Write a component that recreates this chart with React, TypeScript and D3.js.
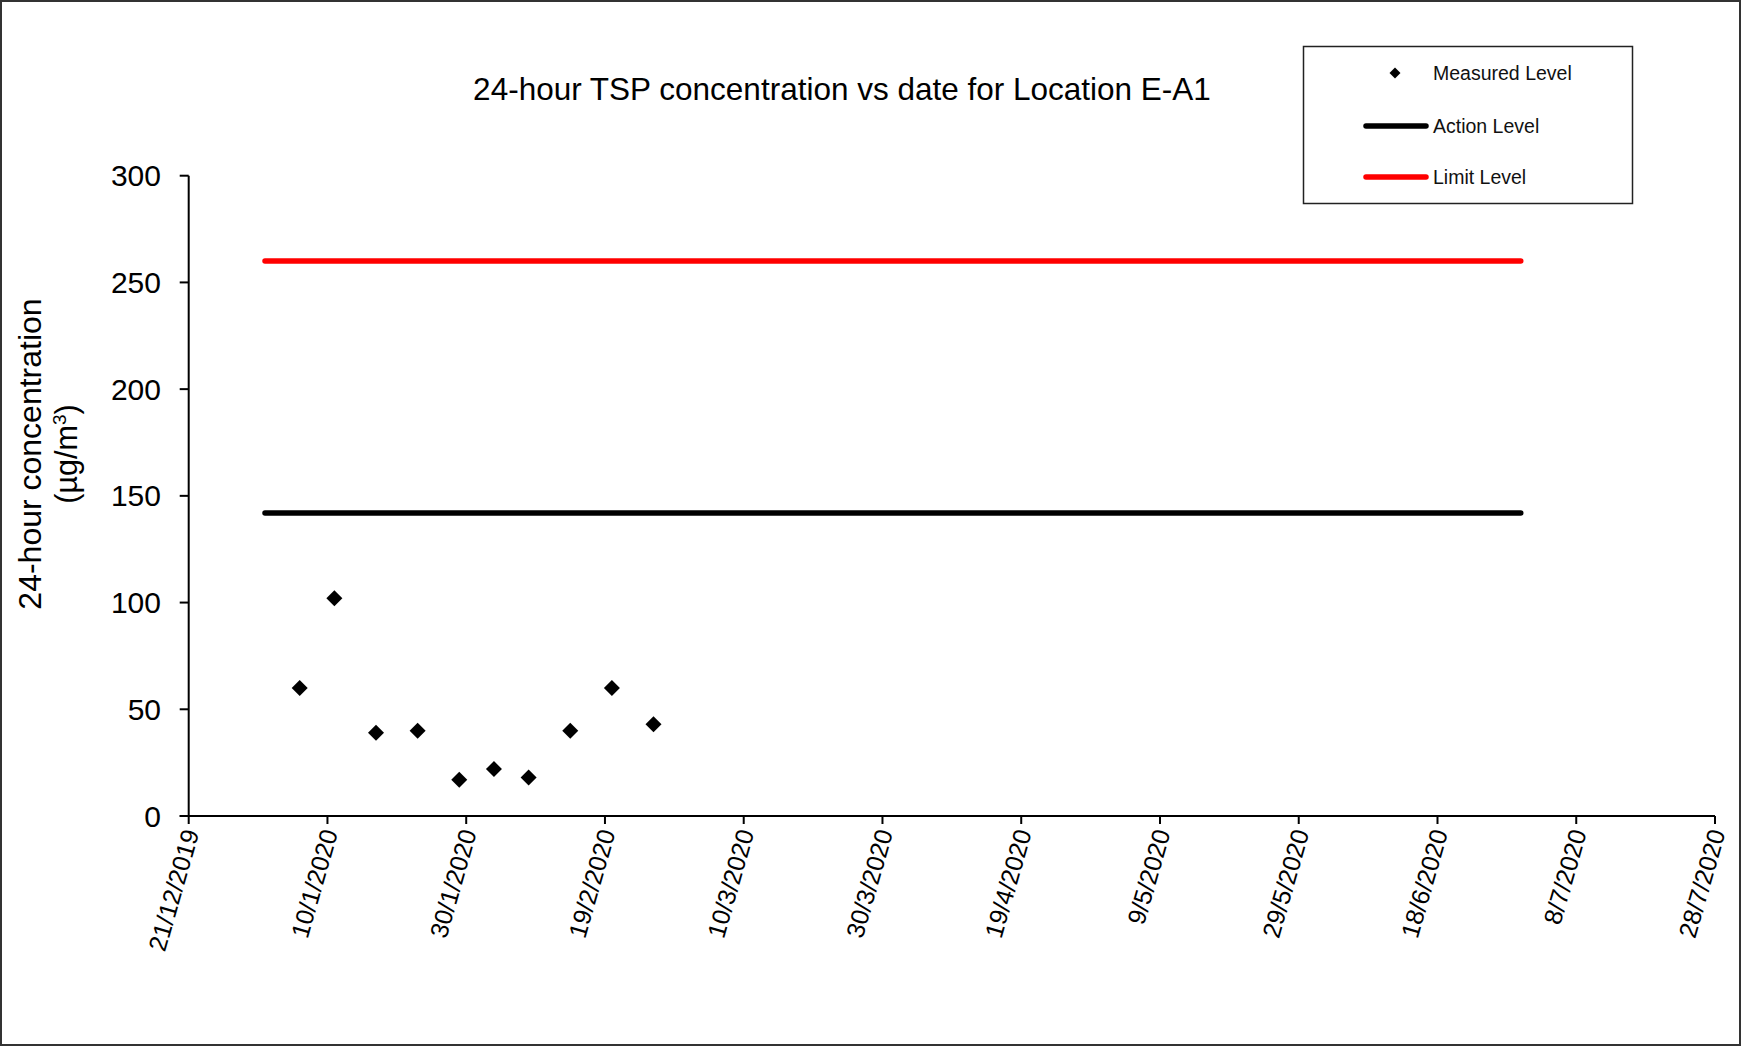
import React, { useEffect } from "react";
import * as d3 from "d3";

// ---- data ----
const measuredDates: string[] = [
  "2020-01-06", "2020-01-11", "2020-01-17", "2020-01-23", "2020-01-29",
  "2020-02-03", "2020-02-08", "2020-02-14", "2020-02-20", "2020-02-26",
];
const measuredValues: number[] = [60, 102, 39, 40, 17, 22, 18, 40, 60, 43];
const actionLevel = 142;
const limitLevel = 260;
const levelPeriod: string[] = ["2020-01-01", "2020-06-30"];
const xDomain: string[] = ["2019-12-21", "2020-07-28"];
const yTicks: number[] = [0, 50, 100, 150, 200, 250, 300];
const titleText = "24-hour TSP concentration vs date for Location E-A1";
const legendLabels: string[] = ["Measured Level", "Action Level", "Limit Level"];

const W = 1742;
const H = 1047;
const FONT = "Arial, 'Liberation Sans', Helvetica, sans-serif";

const parse = (s: string) => new Date(s + "T00:00:00Z");

export default function App() {
  useEffect(() => {
    document.body.style.margin = "0";
  }, []);

  const x = d3
    .scaleUtc()
    .domain([parse(xDomain[0]), parse(xDomain[1])])
    .range([188.7, 1715]);
  const y = d3.scaleLinear().domain([0, 300]).range([816, 175.7]);

  const xTicks = d3.utcDay.range(
    parse(xDomain[0]),
    d3.utcDay.offset(parse(xDomain[1]), 1),
    20
  );
  const fmt = d3.utcFormat("%-d/%-m/%Y");

  const diamond = d3.symbol(d3.symbolSquare, 128)();
  const legendDiamond = d3.symbol(d3.symbolSquare, 60)();

  const lineGen = d3
    .line<[Date, number]>()
    .x((d) => x(d[0]))
    .y((d) => y(d[1]));

  const levelLine = (v: number): string =>
    lineGen([
      [parse(levelPeriod[0]), v],
      [parse(levelPeriod[1]), v],
    ]) as string;

  const x0 = x.range()[0];
  const x1 = x.range()[1];
  const y0 = y(0);
  const yTop = y(300);

  return (
    <svg
      width={W}
      height={H}
      style={{ display: "block", background: "#fff" }}
      fontFamily={FONT}
    >
      <rect x={0} y={0} width={W} height={H} fill="#fff" />
      <rect x={1} y={1} width={1739} height={1044} fill="none" stroke="#333" strokeWidth={2} />

      {/* title */}
      <text x={842} y={100} textAnchor="middle" fontSize={31.5} fill="#000">
        {titleText}
      </text>

      {/* y axis */}
      <line x1={x0} y1={yTop} x2={x0} y2={y0} stroke="#000" strokeWidth={2} />
      {yTicks.map((t) => (
        <g key={"y" + t}>
          <line x1={x0 - 9} x2={x0} y1={y(t)} y2={y(t)} stroke="#000" strokeWidth={2} />
          <text
            x={161}
            y={y(t)}
            textAnchor="end"
            dominantBaseline="central"
            fontSize={30}
            fill="#000"
          >
            {t}
          </text>
        </g>
      ))}

      {/* x axis */}
      <line x1={x0 - 9} y1={y0} x2={x1} y2={y0} stroke="#000" strokeWidth={2} />
      {xTicks.map((d, i) => (
        <g key={"x" + i}>
          <line x1={x(d)} x2={x(d)} y1={y0} y2={y0 + 8} stroke="#000" strokeWidth={2} />
          <text
            transform={`translate(${x(d) + 2},${y0 + 14}) rotate(-74)`}
            textAnchor="end"
            dominantBaseline="central"
            fontSize={25}
            fill="#000"
          >
            {fmt(d)}
          </text>
        </g>
      ))}

      {/* y axis label */}
      <g transform="translate(41,454) rotate(-90)">
        <text x={0} y={0} textAnchor="middle" fontSize={32} fill="#000">
          24-hour concentration
        </text>
        <text x={0} y={36} textAnchor="middle" fontSize={30.5} fill="#000">
          (µg/m<tspan fontSize={19} dy={-11}>3</tspan>
          <tspan dy={11}>)</tspan>
        </text>
      </g>

      {/* level lines */}
      <path d={levelLine(limitLevel)} stroke="#ff0000" strokeWidth={5.5} strokeLinecap="round" fill="none" />
      <path d={levelLine(actionLevel)} stroke="#000" strokeWidth={5.5} strokeLinecap="round" fill="none" />

      {/* measured points */}
      {measuredDates.map((ds, i) => (
        <path
          key={"p" + i}
          d={diamond as string}
          transform={`translate(${x(parse(ds))},${y(measuredValues[i])}) rotate(45)`}
          fill="#000"
        />
      ))}

      {/* legend */}
      <rect x={1303.5} y={46.5} width={329} height={157} fill="#fff" stroke="#222" strokeWidth={1.5} />
      <path d={legendDiamond as string} transform="translate(1395,73) rotate(45)" fill="#000" />
      <line x1={1366} x2={1426} y1={126} y2={126} stroke="#000" strokeWidth={5.5} strokeLinecap="round" />
      <line x1={1366} x2={1426} y1={177} y2={177} stroke="#ff0000" strokeWidth={5.5} strokeLinecap="round" />
      {legendLabels.map((l, i) => (
        <text
          key={l}
          x={1433}
          y={[73, 126, 177][i]}
          dominantBaseline="central"
          fontSize={19.5}
          fill="#111"
        >
          {l}
        </text>
      ))}
    </svg>
  );
}
